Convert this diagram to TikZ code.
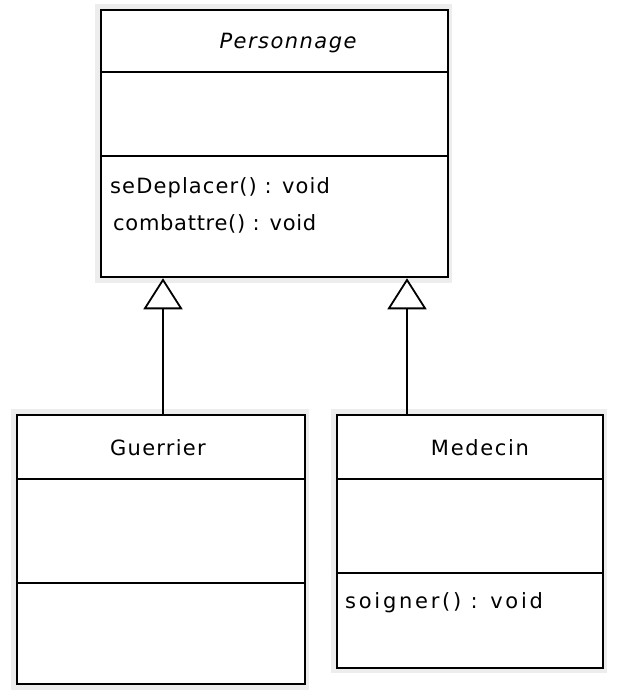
\documentclass[tikz,border=0pt]{standalone}
\usepackage{fontspec}
\setmainfont{DejaVu Sans}
\usetikzlibrary{arrows.meta}
\begin{document}
\begin{tikzpicture}[x=1pt,y=1pt,
  classbox/.style={draw=black, line width=2.5pt, fill=white, inner sep=0pt},
  halo/.style={fill=black!7, draw=none},
  sep/.style={line width=2.5pt},
  lbl/.style={font=\fontsize{21}{24}\selectfont\addfontfeature{LetterSpace=#1}, inner sep=0pt},
  lbl/.default=0,
  inh/.style={line width=2.5pt, -{Triangle[open, length=31pt, width=39pt, line width=1.8pt]}}]
\useasboundingbox (0,0) rectangle (622,-695);
\fill[white] (0,0) rectangle (622,-695);
% halos
\fill[halo] (95,-4) rectangle (452,-283);
\fill[halo] (11,-409) rectangle (309,-690);
\fill[halo] (331,-409) rectangle (607,-673);
% boxes
\node[classbox, minimum width=347pt, minimum height=267pt] (P) at (274.5,-143.5) {};
\node[classbox, minimum width=288pt, minimum height=269pt] (G) at (161,-549.5) {};
\node[classbox, minimum width=266pt, minimum height=253pt] (M) at (470,-541.5) {};
% compartments
\draw[sep] (P.west |- 0,-72) -- (P.east |- 0,-72);
\draw[sep] (P.west |- 0,-156) -- (P.east |- 0,-156);
\draw[sep] (G.west |- 0,-479) -- (G.east |- 0,-479);
\draw[sep] (G.west |- 0,-583) -- (G.east |- 0,-583);
\draw[sep] (M.west |- 0,-479) -- (M.east |- 0,-479);
\draw[sep] (M.west |- 0,-573) -- (M.east |- 0,-573);
% texts
\node[inner sep=0pt, font=\fontsize{21}{24}\selectfont\itshape\addfontfeature{LetterSpace=7}] (tP) at (288,-43) {Personnage};
\node[lbl=5.3, anchor=west] (m1) at (110,-188) {seDeplacer() : void};
\node[lbl=3.4, anchor=west] (m2) at (113,-224) {combattre() : void};
\node[lbl=6] (tG) at (158,-448) {Guerrier};
\node[lbl=8] (tM) at (480,-448) {Medecin};
\node[lbl=13, anchor=west] (m3) at (345,-603) {soigner() : void};
% inheritance
\coordinate (ga) at (163,0);
\coordinate (ma) at (407,0);
\draw[inh] (G.north -| ga) -- (P.south -| ga);
\draw[inh] (M.north -| ma) -- (P.south -| ma);
\end{tikzpicture}
\end{document}
